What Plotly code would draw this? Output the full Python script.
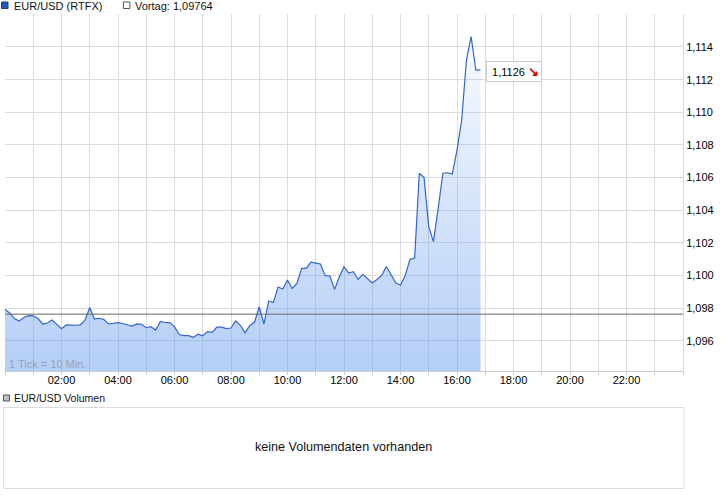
import plotly.graph_objects as go

# ---- data ----
step_minutes = 10
prices = [
    1.09793, 1.09771, 1.09737, 1.09722, 1.09744, 1.09755, 1.09753, 1.09737, 1.09704, 1.09710,
    1.09728, 1.09701, 1.09675, 1.09698, 1.09696, 1.09696, 1.09698, 1.09728, 1.09805, 1.09734,
    1.09739, 1.09731, 1.09704, 1.09710, 1.09712, 1.09707, 1.09701, 1.09691, 1.09704, 1.09702,
    1.09681, 1.09687, 1.09667, 1.09719, 1.09713, 1.09712, 1.09688, 1.09639, 1.09633, 1.09632,
    1.09622, 1.09641, 1.09632, 1.09657, 1.09653, 1.09685, 1.09685, 1.09676, 1.09679, 1.09722,
    1.09696, 1.09650, 1.09695, 1.09716, 1.09808, 1.09704, 1.09845, 1.09835, 1.09930, 1.09918,
    1.09973, 1.09921, 1.09952, 1.10045, 1.10044, 1.10083, 1.10077, 1.10071, 1.10000, 1.09998,
    1.09916, 1.09992, 1.10055, 1.10016, 1.10024, 1.09977, 1.10008, 1.09984, 1.09955, 1.09976,
    1.10001, 1.10056, 1.10004, 1.09955, 1.09943, 1.10001, 1.10099, 1.10108, 1.10627, 1.10600,
    1.10300, 1.10208, 1.10412, 1.10627, 1.10630, 1.10622, 1.10769, 1.10953, 1.11320, 1.11463,
    1.11259, 1.11260,
]
hours = [i * step_minutes / 60 for i in range(len(prices))]
prev_close = 1.09764
last_label = "1,1126"
x_tick_hours = list(range(0, 25))
x_tick_text = ["" if h % 2 or h in (0, 24) else f"{h:02d}:00" for h in x_tick_hours]
y_ticks = [1.096, 1.098, 1.100, 1.102, 1.104, 1.106, 1.108, 1.110, 1.112, 1.114]
y_range = [1.09416, 1.11602]

# ---- pixel helpers for decorations outside plot ----
L, R, T, B = 5, 683.5, 14, 371
W, H = 726, 496
def px(X):
    return (X - L) / (R - L)
def py(Y):
    return (B - Y) / (B - T)

FONT = "Liberation Sans, Arial, sans-serif"

fig = go.Figure()
fig.add_trace(go.Scatter(x=hours, y=[y_range[0]] * len(hours), mode="lines",
                         line=dict(width=0), showlegend=False, hoverinfo="skip"))
fig.add_trace(go.Scatter(
    x=hours, y=prices, mode="lines", fill="tonexty",
    fillgradient=dict(type="vertical", start=y_range[0], stop=1.1155,
                      colorscale=[[0, "rgba(105,156,238,0.5)"], [1, "rgba(109,159,238,0.03)"]]),
    line=dict(color="#3366cc", width=1.2), showlegend=False, hoverinfo="skip"))

shapes = [
    dict(type="line", xref="x", yref="y", x0=0, x1=24, y0=prev_close, y1=prev_close,
         line=dict(color="#666666", width=1), layer="above"),
    # top legend squares
    dict(type="rect", xref="paper", yref="paper", x0=px(1.5), x1=px(8), y0=py(8.5), y1=py(2),
         fillcolor="#2255bb", line=dict(color="#1a3f8f", width=1)),
    dict(type="rect", xref="paper", yref="paper", x0=px(123.5), x1=px(130), y0=py(8.5), y1=py(2),
         fillcolor="white", line=dict(color="#555555", width=1)),
    # volume panel
    dict(type="rect", xref="paper", yref="paper", x0=px(3.5), x1=px(9.5), y0=py(401), y1=py(395),
         fillcolor="#c0c0c0", line=dict(color="#555555", width=1)),
    dict(type="rect", xref="paper", yref="paper", x0=px(3.5), x1=px(684.5), y0=py(488.5), y1=py(407.5),
         fillcolor="white", line=dict(color="#dddddd", width=1)),
]

annotations = [
    dict(xref="paper", yref="paper", x=px(12), y=py(6), xanchor="left", yanchor="middle",
         text="EUR/USD (RTFX)", showarrow=False, font=dict(size=11, color="#111111", family=FONT)),
    dict(xref="paper", yref="paper", x=px(133), y=py(6), xanchor="left", yanchor="middle",
         text="Vortag: " + f"{prev_close:.5f}".replace(".", ","), showarrow=False,
         font=dict(size=11, color="#111111", family=FONT)),
    dict(xref="paper", yref="paper", x=px(7), y=py(364), xanchor="left", yanchor="middle",
         text="1 Tick = 10 Min.", showarrow=False, font=dict(size=11, color="#9aa3b3", family=FONT)),
    dict(xref="x", yref="y", x=hours[-1], y=prices[-1], xanchor="left", yanchor="middle",
         xshift=5, yshift=-2,
         text=" " + last_label + " <span style='color:#e00000;font-size:13px'><b>↘</b></span>",
         showarrow=False,
         bgcolor="white", bordercolor="#cccccc", borderwidth=1, borderpad=2,
         font=dict(size=11, color="#000000", family=FONT)),
    dict(xref="paper", yref="paper", x=px(12), y=py(398), xanchor="left", yanchor="middle",
         text="EUR/USD Volumen", showarrow=False, font=dict(size=10.5, color="#111111", family=FONT)),
    dict(xref="paper", yref="paper", x=px(344), y=py(447), xanchor="center", yanchor="middle",
         text="keine Volumendaten vorhanden", showarrow=False,
         font=dict(size=12.6, color="#111111", family=FONT)),
]

fig.update_layout(
    width=W, height=H,
    margin=dict(l=L, r=W - R, t=T, b=H - B, pad=0),
    paper_bgcolor="white", plot_bgcolor="white",
    separators=",.",
    showlegend=False,
    shapes=shapes, annotations=annotations,
    font=dict(family=FONT, size=11, color="#000000"),
    xaxis=dict(range=[0, 24], tickmode="array", tickvals=x_tick_hours, ticktext=x_tick_text,
               showgrid=True, gridcolor="#dcdcdc", gridwidth=1, zeroline=False,
               showline=True, linecolor="#cccccc", linewidth=1,
               ticks="outside", ticklen=3, tickcolor="#cccccc", ticklabelstandoff=-4,
               tickfont=dict(size=11, color="#000000", family=FONT), fixedrange=True),
    yaxis=dict(range=y_range, side="right", tickmode="array", tickvals=y_ticks,
               tickformat=".3f", showgrid=True, gridcolor="#dcdcdc", gridwidth=1,
               zeroline=False, showline=True, linecolor="#dcdcdc", linewidth=1,
               ticks="", tickfont=dict(size=11, color="#000000", family=FONT), fixedrange=True),
)

fig.write_html(
    "out.html",
    config={"displayModeBar": False, "staticPlot": True},
    post_script="document.body.style.margin='0';document.body.style.overflow='hidden';",
)
